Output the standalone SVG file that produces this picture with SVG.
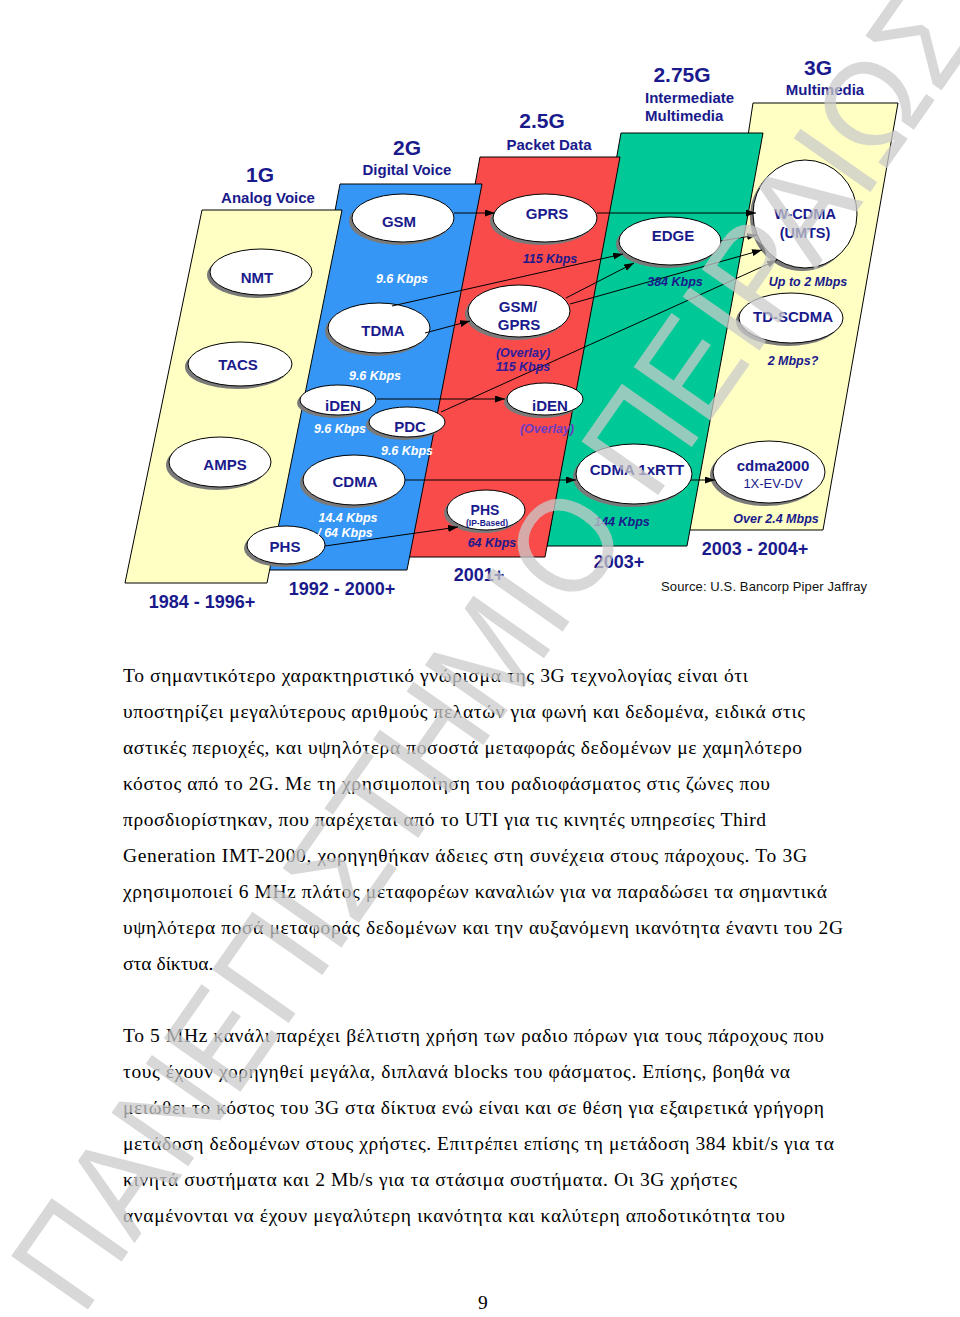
<svg xmlns="http://www.w3.org/2000/svg" width="960" height="1317" viewBox="0 0 960 1317">
<style>
.pn{stroke:#000;stroke-width:1}
.el{fill:#fff;stroke:#000;stroke-width:1}
.sh{fill:#7a7a7a}
.t{font-family:"Liberation Sans",Arial,sans-serif;font-weight:bold;fill:#1a1a8c;text-anchor:middle}
.nt{font-size:15px}
.sp{font-size:12.5px;font-style:italic}
.w{fill:#fff}
.hd{font-size:21px}
.sub{font-size:15px}
.yr{font-size:18px}
.cn{stroke:#000;stroke-width:1;fill:none;marker-end:url(#ah)}
.body{font-family:"Liberation Serif","Times New Roman",serif;font-size:19.5px;fill:#000}
.wm{font-family:"Liberation Sans",Arial,sans-serif;font-size:136px;fill:#cbcbcb;opacity:0.74}
</style>
<defs>
<marker id="ah" markerWidth="10" markerHeight="8" refX="10" refY="3.5" orient="auto" markerUnits="userSpaceOnUse">
<path d="M0,0 L10,3.5 L0,7 z" fill="#000"/>
</marker>
</defs>
<rect width="960" height="1317" fill="#fff"/>

<g id="panels">
<polygon id="p3g" class="pn" fill="#ffffc4" points="753,103 898,103 823,530 688,530"/>
<polygon id="p275g" class="pn" fill="#00c896" points="621,133 763,133 687,546 547,546"/>
<polygon id="p25g" class="pn" fill="#fa4b4b" points="480,157 620,157 545,557 408,557"/>
<polygon id="p2g" class="pn" fill="#3596f5" points="340,184 482,184 407,570 268,570"/>
<polygon id="p1g" class="pn" fill="#ffffc4" points="202,210 342,210 267,583 125,583"/>
</g>

<g id="headers" class="t">
<text class="hd" x="260" y="182">1G</text>
<text class="sub" x="268" y="203">Analog Voice</text>
<text class="hd" x="407" y="155">2G</text>
<text class="sub" x="407" y="175">Digital Voice</text>
<text class="hd" x="542" y="128">2.5G</text>
<text class="sub" x="549" y="150">Packet Data</text>
<text class="hd" x="682" y="82">2.75G</text>
<text class="sub" x="645" y="103" style="text-anchor:start">Intermediate</text>
<text class="sub" x="645" y="121" style="text-anchor:start">Multimedia</text>
<text class="hd" x="818" y="75">3G</text>
<text class="sub" x="825" y="95">Multimedia</text>
</g>

<g id="n-nmt"><ellipse class="sh" cx="258" cy="275" rx="51" ry="23"/><ellipse class="el" cx="261" cy="272" rx="51" ry="23"/><text class="t nt" x="257" y="283">NMT</text></g>
<g id="n-tacs"><ellipse class="sh" cx="237" cy="367" rx="52" ry="22"/><ellipse class="el" cx="240" cy="364" rx="52" ry="22"/><text class="t nt" x="238" y="370">TACS</text></g>
<g id="n-amps"><ellipse class="sh" cx="217" cy="465" rx="51" ry="25"/><ellipse class="el" cx="220" cy="462" rx="51" ry="25"/><text class="t nt" x="225" y="470">AMPS</text></g>
<g id="n-gsm"><ellipse class="sh" cx="400" cy="221" rx="51" ry="24"/><ellipse class="el" cx="403" cy="218" rx="51" ry="24"/><text class="t nt" x="399" y="227">GSM</text></g>
<g id="n-tdma"><ellipse class="sh" cx="376" cy="331" rx="51" ry="25"/><ellipse class="el" cx="379" cy="328" rx="51" ry="25"/><text class="t nt" x="383" y="336">TDMA</text></g>
<g id="n-iden2"><ellipse class="sh" cx="335" cy="403" rx="38" ry="15"/><ellipse class="el" cx="338" cy="400" rx="38" ry="15"/><text class="t nt" x="343" y="411">iDEN</text></g>
<g id="n-pdc"><ellipse class="sh" cx="404" cy="425" rx="38" ry="15"/><ellipse class="el" cx="407" cy="422" rx="38" ry="15"/><text class="t nt" x="410" y="432">PDC</text></g>
<g id="n-cdma"><ellipse class="sh" cx="351" cy="483" rx="51" ry="25"/><ellipse class="el" cx="354" cy="480" rx="51" ry="25"/><text class="t nt" x="355" y="487">CDMA</text></g>
<g id="n-phs"><ellipse class="sh" cx="283" cy="548" rx="39" ry="19"/><ellipse class="el" cx="286" cy="545" rx="39" ry="19"/><text class="t nt" x="285" y="552">PHS</text></g>
<g id="n-gprs"><ellipse class="sh" cx="542" cy="221" rx="52" ry="24"/><ellipse class="el" cx="545" cy="218" rx="52" ry="24"/><text class="t nt" x="547" y="219">GPRS</text></g>
<g id="n-gsmgprs"><ellipse class="sh" cx="516" cy="314" rx="51" ry="26"/><ellipse class="el" cx="519" cy="311" rx="51" ry="26"/><text class="t nt" x="518" y="312">GSM/</text><text class="t nt" x="519" y="330">GPRS</text></g>
<g id="n-iden25"><ellipse class="sh" cx="542" cy="402" rx="38" ry="16"/><ellipse class="el" cx="545" cy="399" rx="38" ry="16"/><text class="t nt" x="550" y="411">iDEN</text></g>
<g id="n-phsip"><ellipse class="sh" cx="483" cy="513" rx="39" ry="20"/><ellipse class="el" cx="486" cy="510" rx="39" ry="20"/><text class="t" style="font-size:14px" x="485" y="515">PHS</text><text class="t" style="font-size:8.5px" x="487" y="526">(IP-Based)</text></g>
<g id="n-edge"><ellipse class="sh" cx="667" cy="244" rx="51" ry="24"/><ellipse class="el" cx="670" cy="241" rx="51" ry="24"/><text class="t nt" x="673" y="241">EDGE</text></g>
<g id="n-wcdma"><ellipse class="sh" cx="802" cy="217" rx="52" ry="54"/><ellipse class="el" cx="805" cy="214" rx="52" ry="54"/><text class="t" style="font-size:14.5px" x="805" y="219">W-CDMA</text><text class="t" style="font-size:14.5px" x="805" y="238">(UMTS)</text></g>
<g id="n-tdscdma"><ellipse class="sh" cx="788" cy="321" rx="52" ry="25"/><ellipse class="el" cx="791" cy="318" rx="52" ry="25"/><text class="t nt" x="793" y="322">TD-SCDMA</text></g>
<g id="n-cdma1x"><ellipse class="sh" cx="631" cy="477" rx="58" ry="30"/><ellipse class="el" cx="634" cy="474" rx="58" ry="30"/><text class="t nt" x="637" y="475">CDMA 1xRTT</text></g>
<g id="n-cdma2000"><ellipse class="sh" cx="766" cy="475" rx="56" ry="31"/><ellipse class="el" cx="769" cy="472" rx="56" ry="31"/><text class="t nt" x="773" y="471">cdma2000</text><text class="t" style="font-size:13px;font-weight:normal" x="773" y="488">1X-EV-DV</text></g>

<g id="connectors">
<line class="cn" x1="454" y1="213" x2="495" y2="213"/>
<line class="cn" x1="597" y1="213" x2="756" y2="213"/>
<line class="cn" x1="392" y1="306" x2="623" y2="254"/>
<line class="cn" x1="425" y1="333" x2="470" y2="321"/>
<line class="cn" x1="566" y1="298" x2="634" y2="263"/>
<line class="cn" x1="570" y1="304" x2="762" y2="250"/>
<line class="cn" x1="720" y1="241" x2="757" y2="235"/>
<line class="cn" x1="441" y1="412" x2="777" y2="260"/>
<line class="cn" x1="377" y1="399" x2="505" y2="399"/>
<line class="cn" x1="405" y1="480" x2="576" y2="480"/>
<line class="cn" x1="691" y1="480" x2="715" y2="480"/>
<line class="cn" x1="325" y1="546" x2="458" y2="527"/>
</g>

<g id="speeds" class="t sp">
<text class="w" x="402" y="283">9.6 Kbps</text>
<text class="w" x="375" y="380">9.6 Kbps</text>
<text class="w" x="340" y="433">9.6 Kbps</text>
<text class="w" x="407" y="455">9.6 Kbps</text>
<text class="w" x="348" y="522">14.4 Kbps</text>
<text class="w" x="345" y="537">/ 64 Kbps</text>
<text x="550" y="263">115 Kbps</text>
<text x="523" y="357" fill="#2c1c9c">(Overlay)</text>
<text x="523" y="371" fill="#2c1c9c">115 Kbps</text>
<text x="547" y="433" style="fill:#6a3cc0">(Overlay)</text>
<text x="492" y="547">64 Kbps</text>
<text x="675" y="286">384 Kbps</text>
<text x="622" y="526">144 Kbps</text>
<text x="808" y="286">Up to 2 Mbps</text>
<text x="793" y="365">2 Mbps?</text>
<text x="776" y="523">Over 2.4 Mbps</text>
</g>

<g id="years" class="t yr">
<text x="202" y="608">1984 - 1996+</text>
<text x="342" y="595">1992 - 2000+</text>
<text x="479" y="581">2001+</text>
<text x="619" y="568">2003+</text>
<text x="755" y="555">2003 - 2004+</text>
</g>
<text id="source" x="661" y="591" textLength="206" style="font-family:'Liberation Sans',Arial,sans-serif;font-size:13px;fill:#111">Source: U.S. Bancorp Piper Jaffray</text>

<g id="body" class="body">
<text x="123" y="682" textLength="625">Το σημαντικότερο χαρακτηριστικό γνώρισμα της 3G τεχνολογίας είναι ότι</text>
<text x="123" y="718" textLength="682">υποστηρίζει μεγαλύτερους αριθμούς πελατών για φωνή και δεδομένα, ειδικά στις</text>
<text x="123" y="754" textLength="679">αστικές περιοχές, και υψηλότερα ποσοστά μεταφοράς δεδομένων με χαμηλότερο</text>
<text x="123" y="790" textLength="647">κόστος από το 2G. Με τη χρησιμοποίηση του ραδιοφάσματος στις ζώνες που</text>
<text x="123" y="826" textLength="643">προσδιορίστηκαν, που παρέχεται από το UTI για τις κινητές υπηρεσίες Third</text>
<text x="123" y="862" textLength="684">Generation IMT-2000, χορηγηθήκαν άδειες στη συνέχεια στους πάροχους. Το 3G</text>
<text x="123" y="898" textLength="704">χρησιμοποιεί 6 MHz πλάτος μεταφορέων καναλιών για να παραδώσει τα σημαντικά</text>
<text x="123" y="934" textLength="720">υψηλότερα ποσά μεταφοράς δεδομένων και την αυξανόμενη ικανότητα έναντι του 2G</text>
<text x="123" y="970">στα δίκτυα.</text>
<text x="123" y="1042" textLength="701">Το 5 MHz κανάλι παρέχει βέλτιστη χρήση των ραδιο πόρων για τους πάροχους που</text>
<text x="123" y="1078" textLength="667">τους έχουν χορηγηθεί μεγάλα, διπλανά blocks του φάσματος. Επίσης, βοηθά να</text>
<text x="123" y="1114" textLength="701">μειώθει το κόστος του 3G στα δίκτυα ενώ είναι και σε θέση για εξαιρετικά γρήγορη</text>
<text x="123" y="1150" textLength="711">μετάδοση δεδομένων στους χρήστες. Επιτρέπει επίσης τη μετάδοση 384 kbit/s για τα</text>
<text x="123" y="1186" textLength="614">κινητά συστήματα και 2 Mb/s για τα στάσιμα συστήματα. Οι 3G χρήστες</text>
<text x="123" y="1222" textLength="662">αναμένονται να έχουν μεγαλύτερη ικανότητα και καλύτερη αποδοτικότητα του</text>
<text x="478" y="1309">9</text>
</g>

<text id="watermark" class="wm" transform="translate(82,1318) rotate(-55)" textLength="1570" lengthAdjust="spacingAndGlyphs">ΠΑΝΕΠΙΣΤΗΜΙΟ ΠΕΙΡΑΙΩΣ</text>
</svg>
